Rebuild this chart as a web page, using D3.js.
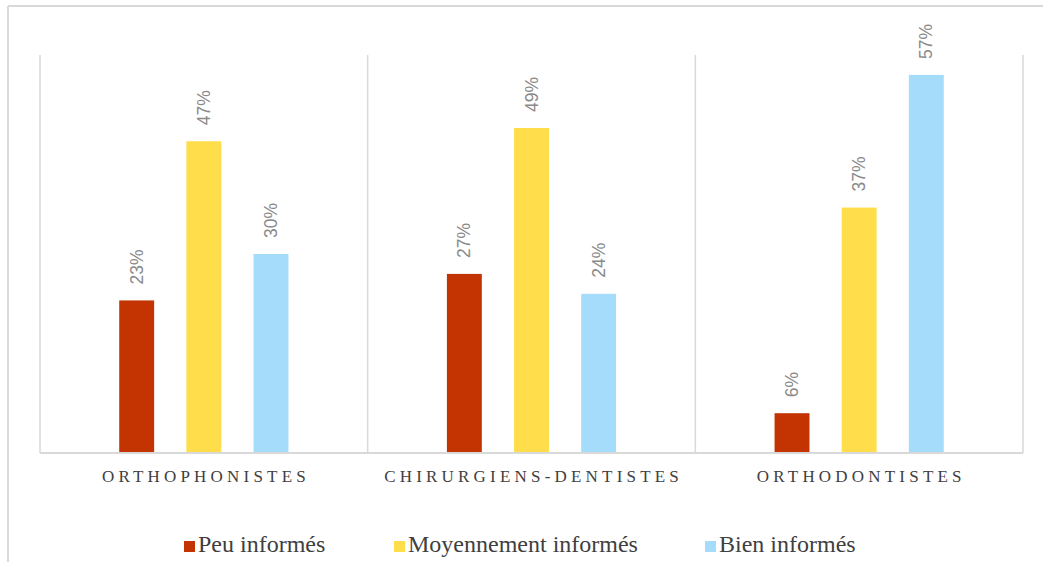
<!DOCTYPE html>
<html>
<head>
<meta charset="utf-8">
<script src="https://cdn.jsdelivr.net/npm/d3@7"></script>
<style>
  body { margin: 0; background: #fff; }
  svg { display: block; }
</style>
</head>
<body>
<script>
var w = 1043, h = 562;

var categories = ["ORTHOPHONISTES", "CHIRURGIENS-DENTISTES", "ORTHODONTISTES"];
var series = ["Peu informés", "Moyennement informés", "Bien informés"];
var peu = [23, 27, 6];
var moyen = [47, 49, 37];
var bien = [30, 24, 57];
var colors = ["#c43302", "#ffdd4b", "#a6dcfb"];

var values = [peu, moyen, bien];

var svg = d3.select("body").append("svg")
    .attr("width", w)
    .attr("height", h);

// outer frame (only top + left visible)
svg.append("line").attr("x1", 8).attr("x2", w).attr("y1", 6).attr("y2", 6)
    .attr("stroke", "#d9d9d9").attr("stroke-width", 2);
svg.append("line").attr("x1", 8).attr("x2", 8).attr("y1", 6).attr("y2", h)
    .attr("stroke", "#d9d9d9").attr("stroke-width", 2);

var plotL = 40, plotR = 1023, plotT = 55, plotB = 453;

var x0 = d3.scaleBand().domain(categories).range([plotL, plotR]).padding(0);
var x1 = d3.scaleBand().domain(series).range([0, x0.bandwidth()])
    .paddingInner(0.48).paddingOuter(1.18);
var y = d3.scaleLinear().domain([0, 60]).range([plotB, plotT]);

// vertical separators
var seps = categories.map(function (c) { return x0(c); }).concat([plotR]);
svg.selectAll(".sep").data(seps).enter().append("line")
    .attr("x1", function (d) { return d; })
    .attr("x2", function (d) { return d; })
    .attr("y1", plotT).attr("y2", plotB)
    .attr("stroke", "#d9d9d9").attr("stroke-width", 1.5);

// bars
var groups = svg.selectAll(".grp").data(categories).enter().append("g")
    .attr("transform", function (d) { return "translate(" + x0(d) + ",0)"; });

groups.each(function (cat, ci) {
    var g = d3.select(this);
    series.forEach(function (s, si) {
        var v = values[si][ci];
        g.append("rect")
            .attr("x", x1(s))
            .attr("y", y(v))
            .attr("width", x1.bandwidth())
            .attr("height", plotB - y(v))
            .attr("fill", colors[si]);
        var cx = x1(s) + x1.bandwidth() / 2;
        var ty = y(v) - 16;
        g.append("text")
            .attr("transform", "translate(" + cx + "," + ty + ") rotate(-90)")
            .attr("dy", "0.35em")
            .attr("text-anchor", "start")
            .attr("font-family", "'Liberation Sans', Arial, sans-serif")
            .attr("font-size", 17.5)
            .attr("fill", "#8a8a8a")
            .text(v + "%");
    });
});

// baseline
svg.append("line").attr("x1", plotL).attr("x2", plotR).attr("y1", plotB).attr("y2", plotB)
    .attr("stroke", "#d9d9d9").attr("stroke-width", 2);

// category labels
svg.selectAll(".cat").data(categories).enter().append("text")
    .attr("x", function (d) { return x0(d) + x0.bandwidth() / 2 + 2.1; })
    .attr("y", 482)
    .attr("text-anchor", "middle")
    .attr("font-family", "'Liberation Serif', 'Times New Roman', serif")
    .attr("font-size", 17)
    .attr("letter-spacing", 4.2)
    .attr("fill", "#404040")
    .text(function (d) { return d; });

// legend
var legX = [184, 394, 705];
var leg = svg.selectAll(".leg").data(series).enter().append("g")
    .attr("transform", function (d, i) { return "translate(" + legX[i] + ",541)"; });
leg.append("rect").attr("width", 11).attr("height", 11)
    .attr("fill", function (d, i) { return colors[i]; });
leg.append("text")
    .attr("x", 14).attr("y", 11)
    .attr("font-family", "'Liberation Serif', 'Times New Roman', serif")
    .attr("font-size", 24)
    .attr("fill", "#404040")
    .text(function (d) { return d; });
</script>
</body>
</html>
